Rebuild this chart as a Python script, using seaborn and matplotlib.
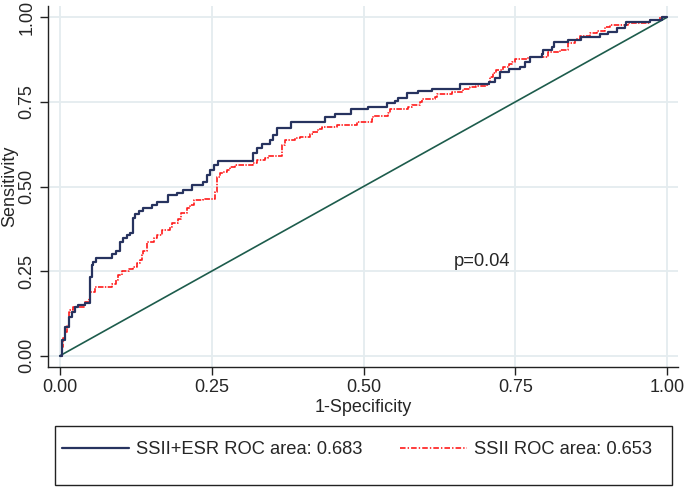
import matplotlib
matplotlib.use("Agg")
import matplotlib.pyplot as plt
import seaborn as sns
import pandas as pd
from matplotlib.patches import Rectangle
from matplotlib.lines import Line2D

# ---- data ----
blue_fpr = [0, 0.003, 0.008, 0.014, 0.019, 0.025, 0.03, 0.041, 0.049, 0.050, 0.052, 0.055, 0.06,
            0.086, 0.093, 0.099, 0.104, 0.11, 0.115, 0.121, 0.124, 0.13, 0.137, 0.151, 0.159, 0.178,
            0.192, 0.203, 0.217, 0.236, 0.242, 0.247, 0.253, 0.261, 0.318, 0.324, 0.332, 0.346,
            0.351, 0.357, 0.381, 0.436, 0.453, 0.48, 0.508, 0.538, 0.552, 0.557, 0.571, 0.59, 0.612,
            0.659, 0.706, 0.717, 0.725, 0.739, 0.758, 0.766, 0.774, 0.794, 0.796, 0.81, 0.813, 0.837,
            0.859, 0.89, 0.903, 0.917, 0.931, 0.933, 0.972, 0.991, 1.0]
blue_tpr = [0, 0.046, 0.086, 0.115, 0.13, 0.145, 0.15, 0.156, 0.165, 0.233, 0.268, 0.278, 0.288,
            0.30, 0.31, 0.337, 0.347, 0.357, 0.362, 0.406, 0.42, 0.428, 0.435, 0.445, 0.455, 0.475,
            0.48, 0.49, 0.505, 0.514, 0.534, 0.549, 0.564, 0.576, 0.598, 0.613, 0.626, 0.637,
            0.652, 0.672, 0.691, 0.706, 0.714, 0.728, 0.736, 0.746, 0.754, 0.761, 0.775, 0.782, 0.787,
            0.802, 0.81, 0.82, 0.839, 0.846, 0.854, 0.869, 0.884, 0.893, 0.903, 0.913, 0.926, 0.933,
            0.943, 0.951, 0.958, 0.968, 0.978, 0.985, 0.993, 1.0, 1.0]

red_fpr = [0, 0.003, 0.005, 0.008, 0.011, 0.014, 0.015, 0.016, 0.022, 0.041, 0.047, 0.049, 0.058,
           0.085, 0.093, 0.096, 0.102, 0.113, 0.121, 0.126, 0.132, 0.135, 0.137, 0.143, 0.154, 0.159,
           0.168, 0.181, 0.184, 0.195, 0.2, 0.209, 0.214, 0.22, 0.236, 0.255, 0.258, 0.264, 0.269,
           0.275, 0.28, 0.288, 0.318, 0.324, 0.338, 0.343, 0.365, 0.371, 0.387, 0.395, 0.412, 0.417,
           0.425, 0.431, 0.456, 0.489, 0.514, 0.516, 0.541, 0.544, 0.574, 0.579, 0.593, 0.596, 0.618,
           0.621, 0.645, 0.664, 0.675, 0.686, 0.703, 0.706, 0.708, 0.714, 0.719, 0.73, 0.739, 0.745,
           0.75, 0.769, 0.774, 0.804, 0.823, 0.837, 0.848, 0.857, 0.873, 0.884, 0.898, 0.906, 0.936,
           0.972, 0.988, 1.0]
red_tpr = [0, 0.027, 0.051, 0.071, 0.091, 0.115, 0.13, 0.135, 0.145, 0.16, 0.17, 0.189, 0.204,
           0.212, 0.224, 0.238, 0.25, 0.255, 0.263, 0.273, 0.283, 0.298, 0.31, 0.335, 0.347, 0.357,
           0.371, 0.381, 0.393, 0.403, 0.421, 0.435, 0.445, 0.46, 0.463, 0.485, 0.529, 0.539, 0.544,
           0.549, 0.557, 0.564, 0.57, 0.578, 0.583, 0.591, 0.623, 0.636, 0.642, 0.647, 0.655, 0.662,
           0.669, 0.675, 0.682, 0.691, 0.699, 0.709, 0.716, 0.729, 0.736, 0.741, 0.751, 0.759, 0.765,
           0.773, 0.779, 0.787, 0.793, 0.797, 0.80, 0.81, 0.824, 0.834, 0.844, 0.854, 0.862, 0.869,
           0.876, 0.879, 0.884, 0.898, 0.903, 0.923, 0.935, 0.945, 0.953, 0.96, 0.972, 0.977, 0.982,
           0.993, 1.0, 1.0]

ref_line = [0, 1]
ticks = [0.0, 0.25, 0.5, 0.75, 1.0]
tick_labels = ["0.00", "0.25", "0.50", "0.75", "1.00"]
label_blue = "SSII+ESR ROC area: 0.683"
label_red = "SSII ROC area: 0.653"
p_text = "p=0.04"

# ---- style ----
sns.set_style("white")
plt.rcParams["font.family"] = ["Liberation Sans", "DejaVu Sans"]
plt.rcParams["lines.scale_dashes"] = False

BLUE = "#27335f"
RED = "#ff1a1a"
GREEN = "#1d5c4c"
GRID = "#e4ecef"
FS = 13
LFS = 13.2

fig = plt.figure(figsize=(6.85, 4.87), dpi=100)
W, H = 685, 487
ax = fig.add_axes([48 / W, 1 - 367 / H, 630 / W, 361 / H])

df_b = pd.DataFrame({"fpr": blue_fpr, "tpr": blue_tpr})
df_r = pd.DataFrame({"fpr": red_fpr, "tpr": red_tpr})
df_d = pd.DataFrame({"fpr": ref_line, "tpr": ref_line})

sns.lineplot(data=df_b, x="fpr", y="tpr", ax=ax, estimator=None, sort=False,
             drawstyle="steps-post", color=BLUE, lw=1.6, zorder=4)
sns.lineplot(data=df_r, x="fpr", y="tpr", ax=ax, estimator=None, sort=False,
             drawstyle="steps-post", color=RED, lw=1.2, zorder=3,
             linestyle=(0, (4, 1.0, 1, 1.0)))
sns.lineplot(data=df_d, x="fpr", y="tpr", ax=ax, estimator=None, sort=False,
             color=GREEN, lw=1.2, zorder=2)

ax.set_xlim(-0.0198, 1.018)
ax.set_ylim(-0.0334, 1.0334)
ax.set_xticks(ticks)
ax.set_xticklabels(tick_labels)
ax.set_yticks(ticks)
ax.set_yticklabels(tick_labels, rotation=90, va="center")
ax.grid(True, color=GRID, lw=1.3)
ax.set_axisbelow(True)
for s in ["top", "right"]:
    ax.spines[s].set_visible(False)
for s in ["left", "bottom"]:
    ax.spines[s].set_color("#222222")
    ax.spines[s].set_linewidth(1.0)
ax.tick_params(axis="both", direction="out", length=6, width=1.0, color="#222222",
               labelsize=FS, pad=3, left=True, bottom=True)

ax.set_xlabel("1-Specificity", fontsize=FS)
ax.set_ylabel("Sensitivity", fontsize=FS)
ax.xaxis.set_label_coords(0.5, -0.09)
ax.yaxis.set_label_coords(-0.047, 0.5)

ax.text(0.648, 0.278, p_text, fontsize=LFS, ha="left", va="center")

# legend frame
fig.patches.append(Rectangle((55 / W, 1 - 485 / H), (672 - 55) / W, (485 - 426) / H,
                             transform=fig.transFigure, fill=False, edgecolor="#222222", lw=1.0))
handles = [Line2D([], [], color=BLUE, lw=1.6),
           Line2D([], [], color=RED, lw=1.2, linestyle=(0, (4, 1.5, 1, 1.5)))]
fig.legend(handles, [label_blue, label_red], loc="center left",
           bbox_to_anchor=(62 / W, 1 - 450 / H), ncol=2, frameon=False, fontsize=LFS,
           handlelength=3.65, handletextpad=0.4, columnspacing=2.05, borderpad=0, borderaxespad=0)

fig.savefig("out.png", dpi=100)
